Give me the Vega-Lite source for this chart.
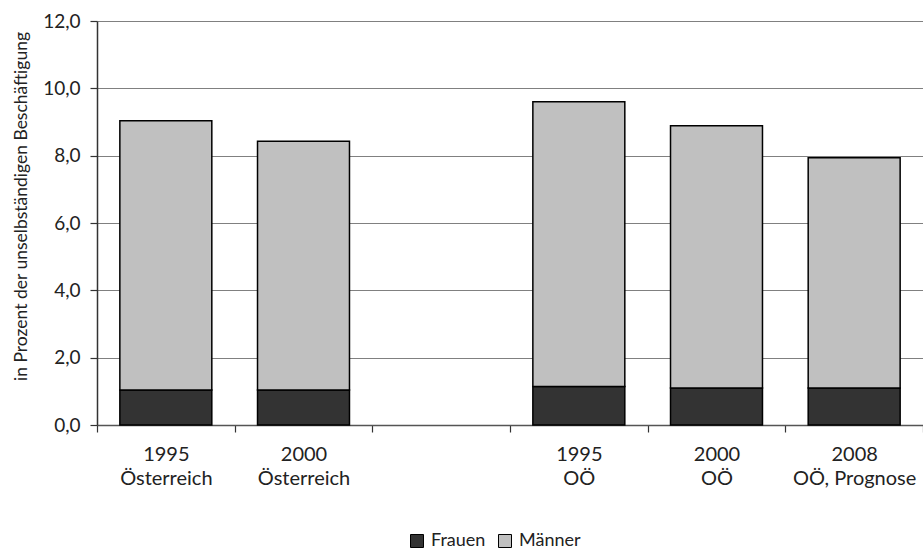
{
  "$schema": "https://vega.github.io/schema/vega-lite/v6.json",
  "width": 826,
  "height": 404,
  "autosize": {"type": "none"},
  "padding": {"left": 97, "top": 21, "right": 0, "bottom": 124},
  "background": "white",
  "config": {
    "font": "Lato",
    "view": {"stroke": null}
  },
  "data": {
    "values": [
      {"Kategorie": "1995|Österreich", "Geschlecht": "Frauen", "Wert": 1.04},
      {"Kategorie": "1995|Österreich", "Geschlecht": "Männer", "Wert": 8.00},
      {"Kategorie": "2000|Österreich", "Geschlecht": "Frauen", "Wert": 1.04},
      {"Kategorie": "2000|Österreich", "Geschlecht": "Männer", "Wert": 7.39},
      {"Kategorie": "1995|OÖ", "Geschlecht": "Frauen", "Wert": 1.14},
      {"Kategorie": "1995|OÖ", "Geschlecht": "Männer", "Wert": 8.46},
      {"Kategorie": "2000|OÖ", "Geschlecht": "Frauen", "Wert": 1.10},
      {"Kategorie": "2000|OÖ", "Geschlecht": "Männer", "Wert": 7.79},
      {"Kategorie": "2008|OÖ, Prognose", "Geschlecht": "Frauen", "Wert": 1.10},
      {"Kategorie": "2008|OÖ, Prognose", "Geschlecht": "Männer", "Wert": 6.84}
    ]
  },
  "mark": {"type": "bar", "stroke": "#000000", "strokeWidth": 1.5, "width": {"band": 0.668}},
  "encoding": {
    "x": {
      "field": "Kategorie",
      "type": "nominal",
      "scale": {
        "domain": ["1995|Österreich", "2000|Österreich", " ", "1995|OÖ", "2000|OÖ", "2008|OÖ, Prognose"],
        "paddingInner": 0,
        "paddingOuter": 0
      },
      "axis": {
        "title": null,
        "labelAngle": 0,
        "labelExpr": "split(datum.label, '|')",
        "labelFontSize": 20,
        "labelColor": "#222222",
        "labelPadding": 12,
        "labelLineHeight": 24,
        "tickBand": "extent",
        "tickSize": 7,
        "tickColor": "#333333",
        "tickWidth": 1.2,
        "domainColor": "#555555",
        "domainWidth": 1.5,
        "grid": false
      }
    },
    "y": {
      "field": "Wert",
      "type": "quantitative",
      "stack": "zero",
      "scale": {"domain": [0, 12], "nice": false},
      "axis": {
        "title": "in Prozent der unselbständigen Beschäftigung",
        "titleFontSize": 17.5,
        "titleFontWeight": "normal",
        "titleColor": "#222222",
        "titlePadding": 12,
        "titleY": 185,
        "values": [0, 2, 4, 6, 8, 10, 12],
        "labelExpr": "replace(format(datum.value, '.1f'), '.', ',')",
        "labelFontSize": 19,
        "labelColor": "#222222",
        "labelPadding": 10,
        "tickSize": 7,
        "tickColor": "#333333",
        "tickWidth": 1.2,
        "domainColor": "#333333",
        "domainWidth": 1.5,
        "grid": true,
        "gridColor": "#808080",
        "gridWidth": 1.2
      }
    },
    "color": {
      "field": "Geschlecht",
      "type": "nominal",
      "scale": {"domain": ["Frauen", "Männer"], "range": ["#333333", "#c0c0c0"]},
      "legend": {
        "title": null,
        "orient": "none",
        "direction": "horizontal",
        "legendX": 311,
        "legendY": 511,
        "symbolType": "square",
        "symbolSize": 169,
        "symbolStrokeColor": "#000000",
        "symbolStrokeWidth": 1,
        "labelFontSize": 18,
        "labelColor": "#222222",
        "columnPadding": 10,
        "labelOffset": 5
      }
    },
    "order": {"field": "Geschlecht", "sort": "ascending"}
  }
}
